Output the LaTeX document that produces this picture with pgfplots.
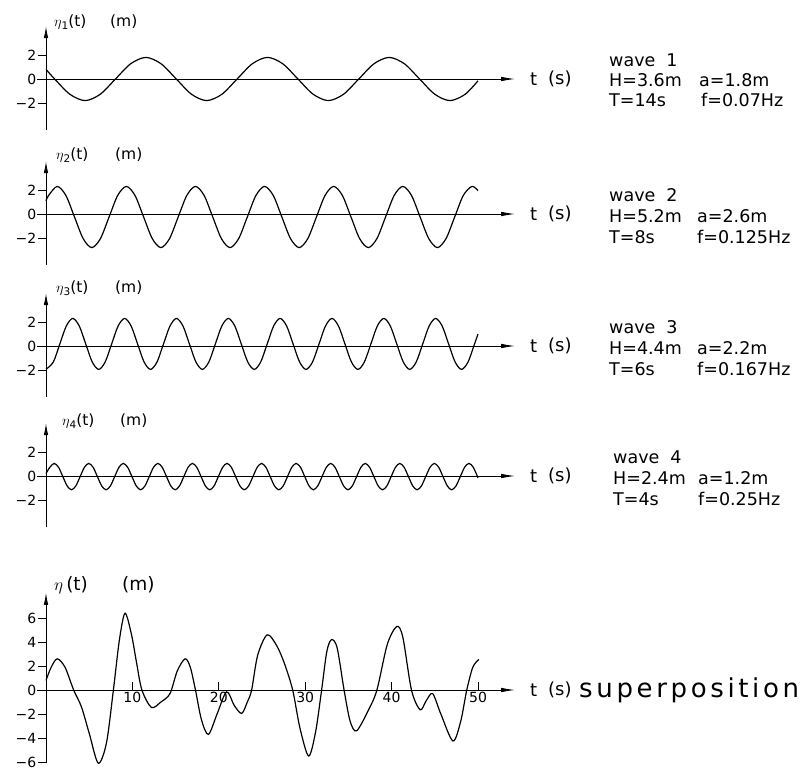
\documentclass[border=0pt]{standalone}
\usepackage{fontspec}
\setmainfont{DejaVu Sans}
\newfontfamily\supfont[LetterSpace=14]{DejaVu Sans}
\usepackage{pgfplots}
\pgfplotsset{compat=1.18}
\usetikzlibrary{arrows.meta}
\newcommand{\tk}{\fontsize{14}{16}\selectfont}
\newcommand{\tx}{\fontsize{17.5}{20}\selectfont}
\newcommand{\et}[1]{$\eta$\raisebox{-0.35ex}{\fontsize{10.5}{12}\selectfont #1}(t)}
\pgfplotsset{
 wline/.style={line width=1.2pt, black, smooth, mark=none},
 wv/.style={
  anchor=origin, x=8.64pt, y=12pt,
  axis lines=middle, xmin=-1, xmax=54.3,
  ymin=-4.25, ymax=4.4,
  clip=false,
  axis line style={line width=0.9pt},
  x axis line style={-{Latex[length=14pt,width=4.5pt]}},
  y axis line style={-{Latex[length=12pt,width=4.5pt]}},
  hide obscured y ticks=false,
  hide obscured x ticks=false,
  xtick=\empty,
  ytick={-2,0,2}, yticklabels={−2,0,2},
  major tick length=8pt,
  tick style={black, line width=0.9pt},
  ytick align=outside,
  xtick align=inside,
  yticklabel style={font=\tk, anchor=east, inner sep=1.5pt},
  xticklabel style={font=\tk, inner sep=2pt},
 }
}
\begin{document}
\begin{tikzpicture}
\path[use as bounding box] (0pt,0pt) rectangle (811pt,-769pt);
% wave 1
\begin{axis}[wv, at={(46pt,-79pt)}]
\addplot[wline] coordinates {(0,0.8) (1.0,0) (2.76,-1.27) (4.52,-1.8) (6.28,-1.27) (8.04,0) (9.80,1.27) (11.56,1.8) (13.32,1.27) (15.08,0) (16.84,-1.27) (18.60,-1.8) (20.36,-1.27) (22.12,0) (23.88,1.27) (25.64,1.8) (27.40,1.27) (29.16,0) (30.92,-1.27) (32.68,-1.8) (34.44,-1.27) (36.20,0) (37.96,1.27) (39.72,1.8) (41.48,1.27) (43.24,0) (45.00,-1.27) (46.76,-1.8) (48.52,-1.27) (50.0,-0.15)};
\end{axis}
% wave 2
\begin{axis}[wv, at={(46pt,-214pt)}]
\addplot[wline] coordinates {(0,1.1) (0.3,1.55) (1.3,2.3) (2.3,1.55) (3.3,-0.25) (4.3,-2.05) (5.3,-2.8) (6.3,-2.05) (7.3,-0.25) (8.3,1.55) (9.3,2.3) (10.3,1.55) (11.3,-0.25) (12.3,-2.05) (13.3,-2.8) (14.3,-2.05) (15.3,-0.25) (16.3,1.55) (17.3,2.3) (18.3,1.55) (19.3,-0.25) (20.3,-2.05) (21.3,-2.8) (22.3,-2.05) (23.3,-0.25) (24.3,1.55) (25.3,2.3) (26.3,1.55) (27.3,-0.25) (28.3,-2.05) (29.3,-2.8) (30.3,-2.05) (31.3,-0.25) (32.3,1.55) (33.3,2.3) (34.3,1.55) (35.3,-0.25) (36.3,-2.05) (37.3,-2.8) (38.3,-2.05) (39.3,-0.25) (40.3,1.55) (41.3,2.3) (42.3,1.55) (43.3,-0.25) (44.3,-2.05) (45.3,-2.8) (46.3,-2.05) (47.3,-0.25) (48.3,1.55) (49.3,2.3) (50.0,1.95)};
\end{axis}
% wave 3
\begin{axis}[wv, at={(46pt,-346pt)}]
\addplot[wline] coordinates {(0,-1.94) (0.85,-1.33) (1.6,0.17) (2.35,1.67) (3.1,2.3) (3.85,1.67) (4.6,0.17) (5.35,-1.33) (6.1,-1.95) (6.85,-1.33) (7.6,0.17) (8.35,1.67) (9.1,2.3) (9.85,1.67) (10.6,0.17) (11.35,-1.33) (12.1,-1.95) (12.85,-1.33) (13.6,0.17) (14.35,1.67) (15.1,2.3) (15.85,1.67) (16.6,0.17) (17.35,-1.33) (18.1,-1.95) (18.85,-1.33) (19.6,0.17) (20.35,1.67) (21.1,2.3) (21.85,1.67) (22.6,0.17) (23.35,-1.33) (24.1,-1.95) (24.85,-1.33) (25.6,0.17) (26.35,1.67) (27.1,2.3) (27.85,1.67) (28.6,0.17) (29.35,-1.33) (30.1,-1.95) (30.85,-1.33) (31.6,0.17) (32.35,1.67) (33.1,2.3) (33.85,1.67) (34.6,0.17) (35.35,-1.33) (36.1,-1.95) (36.85,-1.33) (37.6,0.17) (38.35,1.67) (39.1,2.3) (39.85,1.67) (40.6,0.17) (41.35,-1.33) (42.1,-1.95) (42.85,-1.33) (43.6,0.17) (44.35,1.67) (45.1,2.3) (45.85,1.67) (46.6,0.17) (47.35,-1.33) (48.1,-1.95) (48.85,-1.33) (49.6,0.17) (50.0,1.0)};
\end{axis}
% wave 4
\begin{axis}[wv, at={(46pt,-476pt)}]
\addplot[wline] coordinates {(0,0.2) (0.45,0.73) (0.95,1.05) (1.45,0.73) (1.95,-0.05) (2.45,-0.83) (2.95,-1.15) (3.45,-0.83) (3.95,-0.05)
(4.45,0.73) (4.95,1.05) (5.45,0.73) (5.95,-0.05) (6.45,-0.83) (6.95,-1.15) (7.45,-0.83) (7.95,-0.05)
(8.45,0.73) (8.95,1.05) (9.45,0.73) (9.95,-0.05) (10.45,-0.83) (10.95,-1.15) (11.45,-0.83) (11.95,-0.05)
(12.45,0.73) (12.95,1.05) (13.45,0.73) (13.95,-0.05) (14.45,-0.83) (14.95,-1.15) (15.45,-0.83) (15.95,-0.05)
(16.45,0.73) (16.95,1.05) (17.45,0.73) (17.95,-0.05) (18.45,-0.83) (18.95,-1.15) (19.45,-0.83) (19.95,-0.05)
(20.45,0.73) (20.95,1.05) (21.45,0.73) (21.95,-0.05) (22.45,-0.83) (22.95,-1.15) (23.45,-0.83) (23.95,-0.05)
(24.45,0.73) (24.95,1.05) (25.45,0.73) (25.95,-0.05) (26.45,-0.83) (26.95,-1.15) (27.45,-0.83) (27.95,-0.05)
(28.45,0.73) (28.95,1.05) (29.45,0.73) (29.95,-0.05) (30.45,-0.83) (30.95,-1.15) (31.45,-0.83) (31.95,-0.05)
(32.45,0.73) (32.95,1.05) (33.45,0.73) (33.95,-0.05) (34.45,-0.83) (34.95,-1.15) (35.45,-0.83) (35.95,-0.05)
(36.45,0.73) (36.95,1.05) (37.45,0.73) (37.95,-0.05) (38.45,-0.83) (38.95,-1.15) (39.45,-0.83) (39.95,-0.05)
(40.45,0.73) (40.95,1.05) (41.45,0.73) (41.95,-0.05) (42.45,-0.83) (42.95,-1.15) (43.45,-0.83) (43.95,-0.05)
(44.45,0.73) (44.95,1.05) (45.45,0.73) (45.95,-0.05) (46.45,-0.83) (46.95,-1.15) (47.45,-0.83) (47.95,-0.05)
(48.45,0.73) (48.95,1.05) (49.45,0.73) (50.0,-0.15)};
\end{axis}
% superposition
\begin{axis}[wv, at={(46pt,-690pt)}, ymin=-6.1, ymax=8.1,
  ytick={-6,-4,-2,0,2,4,6}, yticklabels={−6,−4,−2,0,2,4,6},
  xtick={10,20,30,40,50}, xticklabels={10,20,30,40,50}]
\addplot[wline] coordinates {(0,0.8) (0.6,1.9) (1.3,2.6) (2.2,1.9) (3.2,0) (4.1,-1.4) (5.0,-3.6) (6.05,-6.1) (7.0,-4.4) (7.8,0) (8.5,4.2) (9.15,6.4) (9.9,4.6) (10.5,2.2) (11.1,0) (12.2,-1.45) (13.3,-1.0) (14.35,-0.3) (15.2,1.6) (16.1,2.6) (16.7,1.9) (17.3,0) (18.0,-2.5) (18.8,-3.7) (19.8,-2.0) (20.9,-0.15) (21.8,-1.3) (22.65,-1.95) (23.3,-1.0) (23.8,0) (24.5,2.9) (25.6,4.6) (26.7,3.7) (27.6,2.2) (28.55,0) (29.4,-3.2) (30.4,-5.5) (31.2,-3.5) (31.9,0) (32.5,3.2) (33.05,4.2) (33.7,3.5) (34.5,0) (35.2,-2.6) (35.95,-3.4) (37.3,-1.7) (38.3,0) (39.5,3.8) (40.6,5.3) (41.3,4.4) (42.3,0) (43.3,-1.65) (44.0,-0.9) (44.75,-0.3) (45.7,-2.0) (47.1,-4.25) (48.0,-2.6) (48.7,0) (49.4,1.9) (50.1,2.55)};
\end{axis}
% y labels
\begin{scope}[every node/.style={anchor=west, inner sep=0pt, font=\fontsize{15.5}{17}\selectfont}]
\node at (54pt,-22pt) {\et{1}}; \node at (110pt,-22pt) {(m)};
\node at (56pt,-155pt) {\et{2}}; \node at (115pt,-155pt) {(m)};
\node at (56pt,-288pt) {\et{3}}; \node at (115pt,-288pt) {(m)};
\node at (62pt,-421pt) {\et{4}}; \node at (120pt,-421pt) {(m)};
\end{scope}
\begin{scope}[every node/.style={anchor=west, inner sep=0pt, font=\fontsize{18.5}{20}\selectfont}]
\node at (54pt,-585pt) {$\eta$\,(t)}; \node at (122pt,-585pt) {(m)};
\end{scope}
% t (s)
\begin{scope}[every node/.style={anchor=west, inner sep=0pt, font=\fontsize{18}{20}\selectfont}]
\foreach \yy in {79,214,346,476,690} {
 \node at (530pt,-\yy pt) {t}; \node at (548pt,-\yy pt) {(s)};
}
\end{scope}
% wave texts
\begin{scope}[every node/.style={anchor=west, inner sep=0pt, font=\tx}]
\node at (609pt,-60pt) {wave\ \ 1};
\node at (609pt,-80pt) {H=3.6m}; \node at (699pt,-80pt) {a=1.8m};
\node at (609pt,-100pt) {T=14s}; \node at (701pt,-100pt) {f=0.07Hz};
\node at (609pt,-195pt) {wave\ \ 2};
\node at (609pt,-216pt) {H=5.2m}; \node at (697pt,-216pt) {a=2.6m};
\node at (609pt,-237pt) {T=8s}; \node at (697pt,-237pt) {f=0.125Hz};
\node at (609pt,-327pt) {wave\ \ 3};
\node at (609pt,-348pt) {H=4.4m}; \node at (697pt,-348pt) {a=2.2m};
\node at (609pt,-369pt) {T=6s}; \node at (697pt,-369pt) {f=0.167Hz};
\node at (613pt,-457pt) {wave\ \ 4};
\node at (613pt,-478pt) {H=2.4m}; \node at (698pt,-478pt) {a=1.2m};
\node at (613pt,-499pt) {T=4s}; \node at (698pt,-499pt) {f=0.25Hz};
\end{scope}
\node[anchor=west, inner sep=0pt, font={\supfont\fontsize{26}{29}\selectfont}] at (579pt,-690pt) {superposition};
\end{tikzpicture}
\end{document}
